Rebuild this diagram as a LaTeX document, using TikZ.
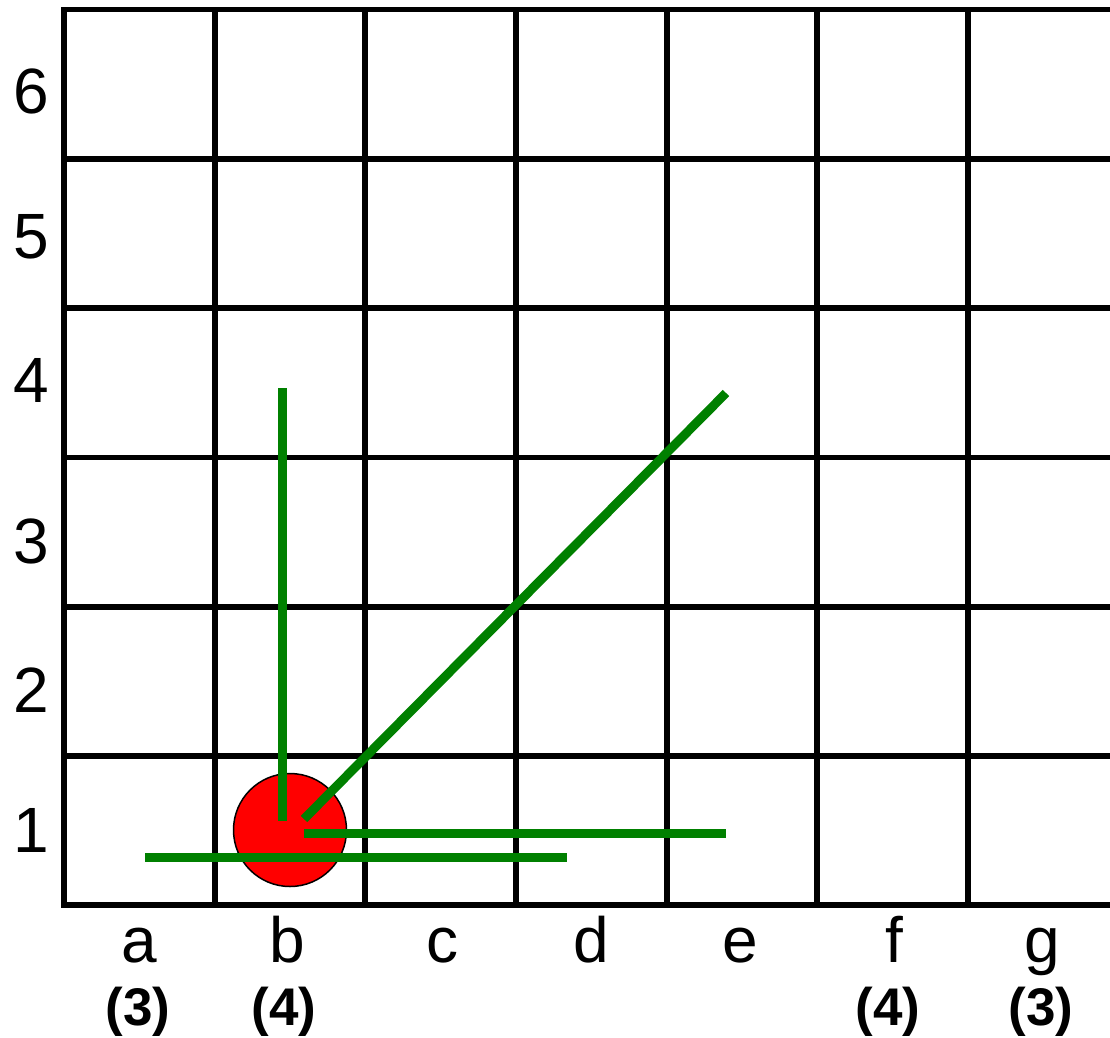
\documentclass[tikz,border=0pt]{standalone}
\usepackage{fontspec}
\setmainfont{Liberation Sans}
\definecolor{mvgreen}{RGB}{0,128,0}
\begin{document}
\begin{tikzpicture}[x=1pt,y=-1pt,
  gridline/.style={line width=5.8pt,line cap=rect},
  move/.style={draw=mvgreen,line width=9pt},
  rank/.style={anchor=base,font=\fontsize{64}{76}\selectfont},
  count/.style={anchor=base,font=\fontsize{53}{62}\selectfont\bfseries}]
\useasboundingbox (0,0) rectangle (1110,1037);
% grid
\foreach \i in {0,...,6}
  \draw[gridline] ({64+150.67*\i},9.5) -- ({64+150.67*\i},905);
\foreach \y in {9.5,158.8,308,457.5,606.8,756,905}
  \draw[gridline] (64,\y) -- (1112,\y);
% piece
\node[circle,fill=red,draw=black,line width=1.5pt,minimum size=113pt,inner sep=0pt] (piece) at (290,830) {};
% moves
\coordinate (v1) at (282,388); \coordinate (v2) at (282,821);
\coordinate (d1) at (304,819); \coordinate (d2) at (726,393);
\coordinate (h1) at (304,833); \coordinate (h2) at (726,833);
\coordinate (l1) at (145,857); \coordinate (l2) at (567,857);
\draw[move] (v1) -- (v2);
\draw[move] (d1) -- (d2);
\draw[move] (h1) -- (h2);
\draw[move] (l1) -- (l2);
% rank labels
\node[rank] (r6) at (31,113) {6};
\node[rank] (r5) at (31,258) {5};
\node[rank] (r4) at (31,402) {4};
\node[rank] (r3) at (31,563) {3};
\node[rank] (r2) at (31,712) {2};
\node[rank] (r1) at (31,852) {1};
% file labels
\node[rank] (fa) at (139,962) {a};
\node[rank] (fb) at (287,962) {b};
\node[rank] (fc) at (442,962) {c};
\node[rank] (fd) at (591,962) {d};
\node[rank] (fe) at (740,962) {e};
\node[rank] (ff) at (894,962) {f};
\node[rank] (fg) at (1042,962) {g};
% counts
\node[count] (ca) at (138,1025) {(3)};
\node[count] (cb) at (284,1025) {(4)};
\node[count] (cf) at (888,1025) {(4)};
\node[count] (cg) at (1041,1025) {(3)};
\end{tikzpicture}
\end{document}
